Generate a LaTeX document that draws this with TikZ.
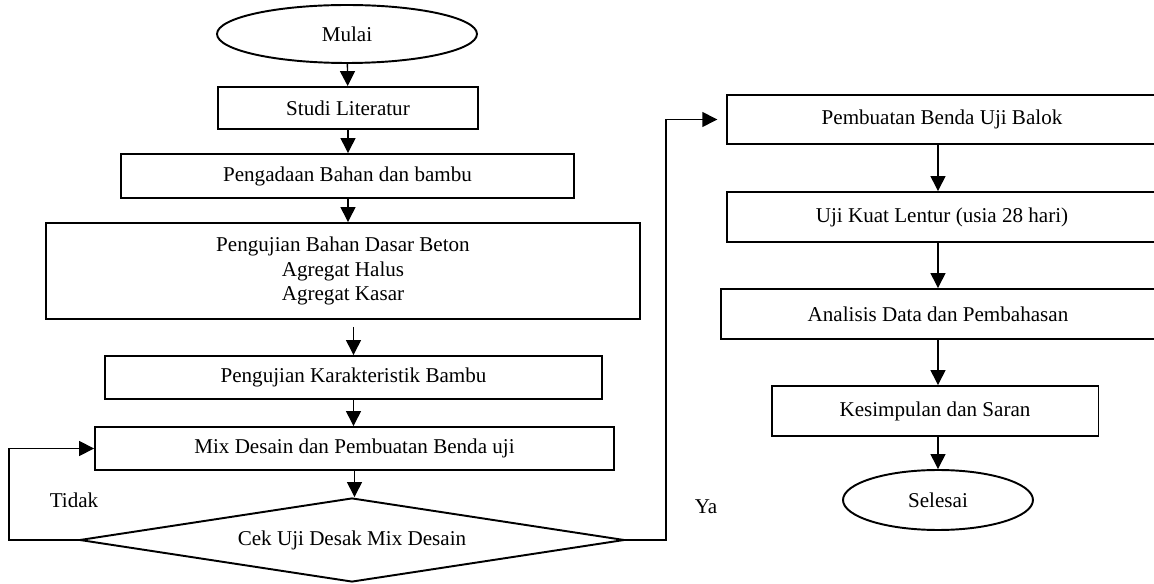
\documentclass[tikz,border=0pt]{standalone}
\usepackage{fontspec}
\setmainfont{Liberation Serif}
\usetikzlibrary{shapes.geometric, arrows.meta}

\begin{document}
\begin{tikzpicture}[x=0.02cm, y=-0.02cm,
        every node/.style={font=\fontsize{12}{14.2}\selectfont},
        kotak/.style={draw, line width=1.1pt, inner sep=0pt, align=center},
        oval/.style={draw, ellipse, line width=1.1pt, inner sep=0pt},
        cekbox/.style={draw, diamond, aspect=6.5, line width=1.1pt, inner sep=0pt},
        alur/.style={line width=0.8pt, -{Triangle[length=8.5pt, width=8.5pt]}}]
        \useasboundingbox (0, 0) rectangle (1154, 584);

        \node[oval, minimum width=5.2cm, minimum height=1.16cm] (mulai) at (347, 34) {Mulai};
        \node[kotak, minimum width=5.2cm, minimum height=0.84cm] (studi) at (348, 108) {Studi Literatur};
        \node[kotak, minimum width=9.06cm, minimum height=0.88cm] (pengadaan) at (347.5, 176) {Pengadaan Bahan dan bambu};
        \node[kotak, minimum width=11.88cm, minimum height=1.92cm] (bahan) at (343, 271) {Pengujian Bahan Dasar Beton\\Agregat Halus\\Agregat Kasar};
        \node[kotak, minimum width=9.94cm, minimum height=0.86cm] (bambu) at (353.5, 377.5) {Pengujian Karakteristik Bambu};
        \node[kotak, minimum width=10.38cm, minimum height=0.86cm] (mix) at (354.5, 448.5) {Mix Desain dan Pembuatan Benda uji};
        \node[cekbox, minimum width=10.9cm, minimum height=1.68cm] (cek) at (352, 540) {Cek Uji Desak Mix Desain};

        \node[kotak, minimum width=8.6cm, minimum height=0.98cm] (balok) at (942, 119.5) {Pembuatan Benda Uji Balok};
        \node[kotak, minimum width=8.6cm, minimum height=1cm] (lentur) at (942, 217) {Uji Kuat Lentur (usia 28 hari)};
        \node[kotak, minimum width=8.68cm, minimum height=1cm] (analisis) at (938, 314) {Analisis Data dan Pembahasan};
        \node[kotak, minimum width=6.54cm, minimum height=1cm] (simpul) at (935, 411) {Kesimpulan dan Saran};
        \node[oval, minimum width=3.8cm, minimum height=1.2cm] (selesai) at (938, 500) {Selesai};

        \node (tidak) at (74, 500) {Tidak};
        \node (ya) at (706, 507) {Ya};

        \coordinate (kiri) at (9, 0);
        \coordinate (kanan) at (666, 0);

        \draw[alur] (mulai) -- (studi);
        \draw[alur] (studi) -- (studi |- pengadaan.north);
        \draw[alur] (pengadaan.south -| studi) -- (studi |- bahan.north);
        \draw[alur, shorten <=4pt] (bahan.south -| bambu) -- (bambu.north);
        \draw[alur] (bambu.south) -- (bambu.south |- mix.north);
        \draw[alur] (mix.south) -- (mix.south |- cek.north);
        \draw[alur] (cek.west) -| (kiri |- mix.west) -- (mix.west);
        \draw[alur, shorten >=5pt] (cek.east) -| (kanan |- balok.west) -- (balok.west);

        \draw[alur] (balok.south -| analisis) -- (lentur.north -| analisis);
        \draw[alur] (lentur.south -| analisis) -- (analisis.north);
        \draw[alur] (analisis.south) -- (analisis.south |- simpul.north);
        \draw[alur] (simpul.south -| selesai) -- (selesai.north);
    \end{tikzpicture}
\end{document}
